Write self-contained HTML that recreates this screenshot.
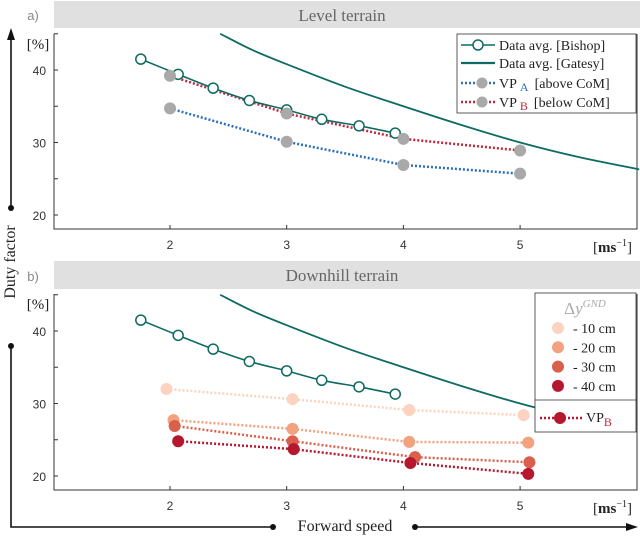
<!DOCTYPE html>
<html><head><meta charset="utf-8"><style>
body{margin:0;background:#fff}
svg{display:block}
.tk{font-family:"Liberation Sans",sans-serif;font-size:12px;fill:#333}
.sf{font-family:"Liberation Serif",serif;fill:#222}
</style></head><body>
<svg id="c" width="640" height="536" viewBox="0 0 640 536">
<rect x="54" y="1" width="586" height="27" fill="#e0e0e0"/>
<text x="342" y="21" text-anchor="middle" class="sf" style="font-size:17px;fill:#666">Level terrain</text>
<text x="33" y="20" text-anchor="middle" style="font-family:'Liberation Sans',sans-serif;font-size:13px;fill:#888">a)</text>
<rect x="54" y="261" width="586" height="28" fill="#e0e0e0"/>
<text x="342" y="281" text-anchor="middle" class="sf" style="font-size:17px;fill:#666">Downhill terrain</text>
<text x="33" y="281" text-anchor="middle" style="font-family:'Liberation Sans',sans-serif;font-size:13px;fill:#888">b)</text>
<g id="pa"></g>
<g id="pb"></g>
<line x1="11" y1="208" x2="11" y2="38" stroke="#111" stroke-width="1.6"/>
<polygon points="11,28 7,40 15,40" fill="#111"/>
<circle cx="11" cy="208" r="3" fill="#111"/>
<text transform="translate(15,262) rotate(-90)" text-anchor="middle" class="sf" style="font-size:16px">Duty factor</text>
<circle cx="11" cy="346" r="3" fill="#111"/>
<polyline points="11,346 11,527 273,527" fill="none" stroke="#111" stroke-width="1.6"/>
<circle cx="273" cy="527" r="3" fill="#111"/>
<text x="345" y="531" text-anchor="middle" class="sf" style="font-size:16px">Forward speed</text>
<circle cx="415" cy="527" r="3" fill="#111"/>
<line x1="415" y1="527" x2="628" y2="527" stroke="#111" stroke-width="1.6"/>
<polygon points="638,527 626,523 626,531" fill="#111"/>
</svg>
<script>
const xTicks=[2,3,4,5];
const yTicks=[20,30,40];
const bishopX=[1.75,2.07,2.37,2.68,3.0,3.3,3.62,3.93];
const bishopY=[41.5,39.4,37.5,35.8,34.5,33.2,32.3,31.3];
const gatesyX=[2.43,2.7,3.0,3.5,4.0,4.5,5.0,5.5,6.02];
const gatesyY=[45,42.8,40.8,37.7,35.0,32.4,30.0,28.0,26.3];
const vpAX=[2,3,4,5];
const vpAY=[34.7,30.1,26.9,25.7];
const vpBX=[2,3,4,5];
const vpBY=[39.2,34.0,30.5,28.9];
const d10X=[1.97,3.05,4.05,5.03]; const d10Y=[32.0,30.6,29.1,28.4];
const d20X=[2.03,3.05,4.05,5.07]; const d20Y=[27.7,26.5,24.7,24.6];
const d30X=[2.04,3.05,4.1,5.08]; const d30Y=[26.9,24.8,22.6,21.9];
const d40X=[2.07,3.06,4.06,5.07]; const d40Y=[24.8,23.7,21.8,20.3];
const NS='http://www.w3.org/2000/svg';
function mk(p,t,a){const e=document.createElementNS(NS,t);for(const k in a)e.setAttribute(k,a[k]);p.appendChild(e);return e;}
function panel(g,top,bot,y40,y20){
  const sx=v=>170+(v-2)*116.7;
  const sy=v=>y40+(40-v)*(y20-y40)/20;
  const ax=mk(g,'path',{d:`M54,${top} V${bot} H637 V${top}`,fill:'none',stroke:'#333','stroke-width':1});
  
  xTicks.forEach(v=>{const l=mk(g,'line',{x1:sx(v),x2:sx(v),y1:bot,y2:bot-4,stroke:'#333'});
    
    const t=mk(g,'text',{x:sx(v),y:bot+20,'text-anchor':'middle',class:'tk'});t.textContent=v;
    });
  for(let v=20;v<=45;v+=5){const l=mk(g,'line',{x1:54,x2:58,y1:sy(v),y2:sy(v),stroke:'#333'});
    }
  yTicks.forEach(v=>{const t=mk(g,'text',{x:46,y:sy(v)+5,'text-anchor':'end',class:'tk'});t.textContent=v;
    });
  const pc=mk(g,'text',{x:38,y:top+15,'text-anchor':'middle',class:'sf','font-size':'15'});pc.textContent='[%]';
  
  const u=mk(g,'text',{x:632,y:bot+23,'text-anchor':'end',class:'sf','font-size':'15'});
  u.innerHTML='[<tspan font-weight="bold">ms</tspan><tspan dy="-6" font-size="10">−1</tspan><tspan dy="6">]</tspan>';
  
  return {sx,sy};
}
function line(g,s,X,Y,attrs,name){const pts=X.map((x,i)=>s.sx(x)+','+s.sy(Y[i])).join(' ');
  const p=mk(g,'polyline',Object.assign({points:pts,fill:'none'},attrs));
  }
function smooth(g,s,X,Y,attrs,name){
  const P=X.map((x,i)=>[s.sx(x),s.sy(Y[i])]);
  let d='M'+P[0][0]+','+P[0][1];
  for(let i=0;i<P.length-1;i++){const p0=P[Math.max(0,i-1)],p1=P[i],p2=P[i+1],p3=P[Math.min(P.length-1,i+2)];
    const c1=[p1[0]+(p2[0]-p0[0])/6,p1[1]+(p2[1]-p0[1])/6],c2=[p2[0]-(p3[0]-p1[0])/6,p2[1]-(p3[1]-p1[1])/6];
    d+=` C${c1[0]},${c1[1]} ${c2[0]},${c2[1]} ${p2[0]},${p2[1]}`;}
  const p=mk(g,'path',Object.assign({d:d,fill:'none'},attrs));
  }
function dots(g,s,X,Y,attrs,name){X.forEach((x,i)=>{const c=mk(g,'circle',Object.assign({cx:s.sx(x),cy:s.sy(Y[i])},attrs));
  });}
const teal='#0d6b62';
function bishop(g,s){smooth(g,s,bishopX,bishopY,{stroke:teal,'stroke-width':1.6},'bishop-line');
  dots(g,s,bishopX,bishopY,{r:5,fill:'#fff',stroke:teal,'stroke-width':1.5},'bishop-marker');}
const ga=document.getElementById('pa');
const sa=panel(ga,34,229,70,215);
smooth(ga,sa,gatesyX,gatesyY,{stroke:teal,'stroke-width':1.8},'gatesy-line');
line(ga,sa,vpAX,vpAY,{stroke:'#2a6fc0','stroke-width':2.5,'stroke-dasharray':'2 2'},'vp-a-line');
line(ga,sa,vpBX,vpBY,{stroke:'#c3263a','stroke-width':2.5,'stroke-dasharray':'2 2'},'vp-b-line');
bishop(ga,sa);
dots(ga,sa,vpAX,vpAY,{r:6,fill:'#a9a9a9'},'vp-a-marker');
dots(ga,sa,vpBX,vpBY,{r:6,fill:'#a9a9a9'},'vp-b-marker');
{const L=mk(ga,'g',{});
 mk(L,'rect',{x:457,y:34,width:179,height:79,fill:'#fff',stroke:'#333','stroke-width':0.8});
 mk(L,'line',{x1:461,x2:495,y1:45,y2:45,stroke:teal,'stroke-width':1.6});
 mk(L,'circle',{cx:478,cy:45,r:5,fill:'#fff',stroke:teal,'stroke-width':1.5});
 mk(L,'line',{x1:461,x2:495,y1:63,y2:63,stroke:teal,'stroke-width':2.2});
 mk(L,'line',{x1:461,x2:495,y1:83,y2:83,stroke:'#2a6fc0','stroke-width':2.5,'stroke-dasharray':'2 2'});
 mk(L,'circle',{cx:482,cy:83,r:5.5,fill:'#a9a9a9'});
 mk(L,'line',{x1:461,x2:495,y1:102,y2:102,stroke:'#c3263a','stroke-width':2.5,'stroke-dasharray':'2 2'});
 mk(L,'circle',{cx:482,cy:102,r:5.5,fill:'#a9a9a9'});
 const t1=mk(L,'text',{x:499,y:50,class:'sf','font-size':'14'});t1.textContent='Data avg. [Bishop]';
 const t2=mk(L,'text',{x:499,y:68,class:'sf','font-size':'14'});t2.textContent='Data avg. [Gatesy]';
 const t3=mk(L,'text',{x:499,y:88,class:'sf','font-size':'14'});t3.innerHTML='VP<tspan dx="3" dy="3" fill="#2a6fc0" font-size="12">A</tspan><tspan dx="6" dy="-3">[above CoM]</tspan>';
 const t4=mk(L,'text',{x:499,y:107,class:'sf','font-size':'14'});t4.innerHTML='VP<tspan dx="3" dy="3" fill="#c3263a" font-size="12">B</tspan><tspan dx="6" dy="-3">[below CoM]</tspan>';
}
const gb=document.getElementById('pb');
const sb=panel(gb,294,490,331,476);
const cp=mk(gb,'clipPath',{id:'clipb'});mk(cp,'rect',{x:0,y:0,width:536,height:536});
const gg=mk(gb,'g',{'clip-path':'url(#clipb)'});
smooth(gg,sb,gatesyX,gatesyY,{stroke:teal,'stroke-width':1.8},'gatesy-line');
bishop(gb,sb);
const shades=[['#fbd3c0',d10X,d10Y,'10'],['#f2a27e',d20X,d20Y,'20'],['#d9604c',d30X,d30Y,'30'],['#b5172e',d40X,d40Y,'40']];
shades.forEach(([c,X,Y,n])=>{line(gb,sb,X,Y,{stroke:c,'stroke-width':2.5,'stroke-dasharray':'2 2'},'drop-'+n+'cm-line');
  dots(gb,sb,X,Y,{r:6,fill:c},'drop-'+n+'cm-marker');});
{const L=mk(gb,'g',{});
 mk(L,'rect',{x:535,y:293,width:101,height:139,fill:'#fff',stroke:'#333','stroke-width':0.8});
 mk(L,'line',{x1:535,x2:636,y1:400,y2:400,stroke:'#333','stroke-width':0.8});
 const tt=mk(L,'text',{x:585,y:314,'text-anchor':'middle',class:'sf','font-size':'17',fill:'#aaa'});
 tt.innerHTML='<tspan fill="#aaa">Δ</tspan><tspan fill="#aaa" font-style="italic">y</tspan><tspan dy="-7" font-size="11" font-style="italic" fill="#aaa">GND</tspan>';
 shades.forEach(([c],i)=>{const y=328+i*19.3;mk(L,'circle',{cx:558,cy:y,r:6,fill:c});
  const t=mk(L,'text',{x:573,y:y+5,class:'sf','font-size':'14'});t.textContent='- '+(i+1)*10+' cm';});
 mk(L,'line',{x1:540,x2:582,y1:418,y2:418,stroke:'#b5172e','stroke-width':2.5,'stroke-dasharray':'2 2'});
 mk(L,'circle',{cx:560,cy:418,r:6,fill:'#b5172e'});
 const tv=mk(L,'text',{x:586,y:422,class:'sf','font-size':'14'});tv.innerHTML='VP<tspan dy="4" fill="#c3263a" font-size="12">B</tspan>';
}
</script>
</body></html>
